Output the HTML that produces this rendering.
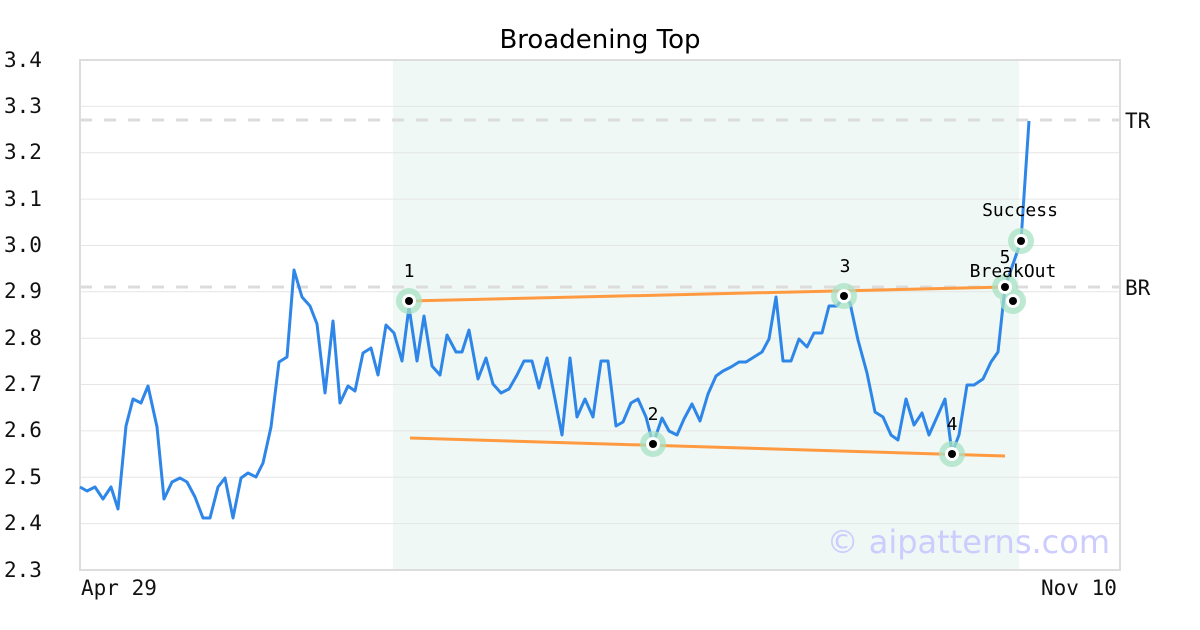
<!DOCTYPE html>
<html><head><meta charset="utf-8"><style>
body{margin:0;background:#fff}
svg{display:block}
text{font-family:"DejaVu Sans Mono","Liberation Mono",monospace}
</style></head><body>
<svg width="1200" height="630" xmlns="http://www.w3.org/2000/svg">
<rect width="1200" height="630" fill="#fff"/>
<rect x="393" y="60" width="626" height="510" fill="#eff8f4"/>
<g stroke="#e6e6e6" stroke-width="1">
<line x1="80" x2="1120" y1="106.4" y2="106.4"/><line x1="80" x2="1120" y1="152.7" y2="152.7"/>
<line x1="80" x2="1120" y1="199.1" y2="199.1"/><line x1="80" x2="1120" y1="245.5" y2="245.5"/>
<line x1="80" x2="1120" y1="291.8" y2="291.8"/><line x1="80" x2="1120" y1="338.2" y2="338.2"/>
<line x1="80" x2="1120" y1="384.5" y2="384.5"/><line x1="80" x2="1120" y1="430.9" y2="430.9"/>
<line x1="80" x2="1120" y1="477.3" y2="477.3"/><line x1="80" x2="1120" y1="523.6" y2="523.6"/>
</g>
<g stroke="#dcdcdc" stroke-width="3" stroke-dasharray="12,12">
<line x1="80" x2="1120" y1="120" y2="120"/><line x1="80" x2="1120" y1="287" y2="287"/>
</g>
<rect x="80" y="60" width="1040" height="510" fill="none" stroke="#dddddd" stroke-width="2"/>
<text x="600" y="48" font-size="26" text-anchor="middle" style="font-family:'DejaVu Sans',sans-serif">Broadening Top</text>
<g font-size="21" fill="#111">
<text x="4" y="67">3.4</text><text x="4" y="113">3.3</text><text x="4" y="159">3.2</text>
<text x="4" y="206">3.1</text><text x="4" y="252">3.0</text><text x="4" y="298">2.9</text>
<text x="4" y="345">2.8</text><text x="4" y="391">2.7</text><text x="4" y="437">2.6</text>
<text x="4" y="484">2.5</text><text x="4" y="530">2.4</text><text x="4" y="577">2.3</text>
<text x="81" y="595">Apr 29</text><text x="1041" y="595">Nov 10</text>
<text x="1125" y="128">TR</text><text x="1125" y="295">BR</text>
</g>
<text x="1110" y="553" font-size="32" fill="#ccccff" text-anchor="end" style="font-family:'DejaVu Sans',sans-serif">© aipatterns.com</text>
<g stroke="#ff9a40" stroke-width="3">
<line x1="409" y1="301" x2="1005" y2="287"/><line x1="410" y1="438" x2="1005" y2="456"/>
</g>
<polyline fill="none" stroke="#2e86e8" stroke-width="3" stroke-linejoin="round" points="80,487 87,491 95,487 103,499 111,487 118,509 126,426 133,399 141,403 148,386 157,427 164,499 172,482 180,478 187,482 195,497 203,518 210,518 218,487 225,478 233,518 241,478 248,473 256,477 263,463 271,427 279,362 287,357 294,270 302,297 310,306 317,324 325,393 333,321 340,403 348,386 355,391 363,353 371,348 378,375 386,325 394,333 402,361 409,307 417,361 424,316 432,366 440,375 447,335 456,352 462,352 469,330 478,379 486,358 493,384 501,393 509,389 517,375 524,361 532,361 539,388 547,358 562,435 570,358 577,417 585,399 593,417 601,361 608,361 616,426 623,422 631,403 638,399 646,417 653,444 662,418 669,431 677,435 684,419 692,404 700,421 708,394 716,376 723,371 731,367 739,362 746,362 754,357 762,352 769,339 776,297 783,361 791,361 799,339 807,347 814,333 822,333 829,306 837,306 844,296 850,303 858,340 867,373 875,412 883,417 891,435 898,440 906,399 914,425 922,413 929,435 945,399 952,453 959,435 967,385 974,385 983,379 991,362 998,352 1005,287 1021,241 1029,121"/>
<g>
<g fill="#a8e2c4" opacity="0.75">
<circle cx="409" cy="301" r="13"/><circle cx="653" cy="444" r="13"/><circle cx="844" cy="296" r="13"/>
<circle cx="952" cy="454" r="13"/><circle cx="1005" cy="287" r="13"/><circle cx="1013" cy="301" r="13"/><circle cx="1021" cy="241" r="13"/>
</g>
<g fill="#fff">
<circle cx="409" cy="301" r="7"/><circle cx="653" cy="444" r="7"/><circle cx="844" cy="296" r="7"/>
<circle cx="952" cy="454" r="7"/><circle cx="1005" cy="287" r="7"/><circle cx="1013" cy="301" r="7"/><circle cx="1021" cy="241" r="7"/>
</g>
<g fill="#000">
<circle cx="409" cy="301" r="4"/><circle cx="653" cy="444" r="4"/><circle cx="844" cy="296" r="4"/>
<circle cx="952" cy="454" r="4"/><circle cx="1005" cy="287" r="4"/><circle cx="1013" cy="301" r="4"/><circle cx="1021" cy="241" r="4"/>
</g>
</g>
<g font-size="18" fill="#000" text-anchor="middle">
<text x="409" y="277">1</text><text x="653" y="420">2</text><text x="845" y="272">3</text>
<text x="952" y="430">4</text><text x="1005" y="263">5</text>
<text x="1013" y="277">BreakOut</text><text x="1020" y="216">Success</text>
</g>
</svg>
</body></html>
